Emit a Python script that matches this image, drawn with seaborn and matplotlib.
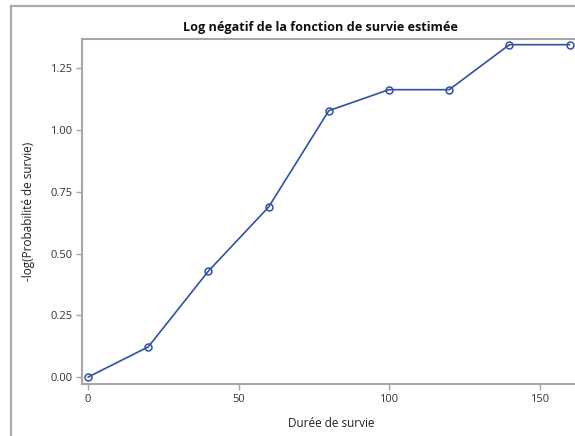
import matplotlib
matplotlib.use("Agg")
import matplotlib.pyplot as plt
import seaborn as sns
import pandas as pd
from matplotlib.patches import Rectangle

durations = [0, 20, 40, 60, 80, 100, 120, 140, 160]
neg_log_surv = [0.0, 0.122, 0.429, 0.688, 1.078, 1.163, 1.163, 1.345, 1.345]
x_ticks = [0, 50, 100, 150]
y_ticks = [0.00, 0.25, 0.50, 0.75, 1.00, 1.25]
y_tick_labels = ["0.00", "0.25", "0.50", "0.75", "1.00", "1.25"]
title = "Log négatif de la fonction de survie estimée"
xlabel = "Durée de survie"
ylabel = "-log(Probabilité de survie)"

df = pd.DataFrame({"x": durations, "y": neg_log_surv})

sns.set_theme(style="white")
plt.rcParams['font.family'] = ['Open Sans', 'DejaVu Sans']

W, H = 575, 436
fig = plt.figure(figsize=(W / 100, H / 100), dpi=100)
ax = fig.add_axes([82 / W, (H - 384) / H, (580 - 82) / W, (384 - 39) / H])

col = "#2f52a8"
sns.lineplot(data=df, x="x", y="y", ax=ax, color=col, linewidth=1.2,
             marker="o", markersize=5, markerfacecolor="none",
             markeredgecolor=col, markeredgewidth=1.1, clip_on=False)

ax.set_xlim(-2, (580 - 88) / 3.01)
ax.set_ylim(-0.028, 1.368)
ax.set_xticks(x_ticks)
ax.set_yticks(y_ticks)
ax.set_yticklabels(y_tick_labels)

gray = "#a6a6a6"
for s in ax.spines.values():
    s.set_color(gray)
    s.set_linewidth(1.5)
ax.tick_params(axis="both", direction="out", length=4, width=1, color=gray,
               labelsize=8, labelcolor="#333333", pad=3, bottom=True, left=True)

ax.set_xlabel(xlabel, fontsize=8.5, color="#222222", labelpad=9)
ax.set_ylabel(ylabel, fontsize=8.5, color="#222222", labelpad=11)

fig.text(320 / W, 1 - 27 / H, title, ha="center", va="center",
         fontsize=9.1, fontweight="bold", color="#111111")

# outer frame
fig.patches.append(Rectangle((11 / W, -0.1), 1.2, 1 - 6 / H + 0.1,
                             transform=fig.transFigure, fill=False,
                             edgecolor="#ababab", linewidth=1.6, zorder=0))

fig.savefig("out.png", dpi=100)
